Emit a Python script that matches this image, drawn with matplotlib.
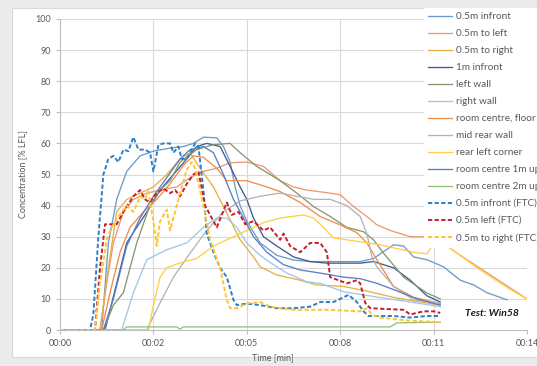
import matplotlib
matplotlib.use("Agg")
import matplotlib.pyplot as plt
from matplotlib.patches import Rectangle

plt.rcParams['font.family'] = ['Lato', 'DejaVu Sans']

# time [min] and concentration [% LFL] per sensor
t_infront = [0, 1.25, 1.45, 1.7, 2.0, 2.4, 2.8, 3.3, 3.7, 4.0, 4.3, 4.7, 4.9, 5.1, 5.25, 5.4, 5.6, 6.0, 6.5, 7.0,
             7.5, 8.0, 8.5, 9.0, 9.4, 10.0, 10.3, 10.6, 11.0, 11.5, 12.0, 12.4, 12.8, 13.4]
c_infront = [0, 0, 28, 42, 51, 56, 57.5, 58.5, 59, 60, 62, 61.8, 59, 54, 46, 40, 35, 28, 24, 22.5,
             22, 22, 22, 22, 23, 27.4, 27, 23.5, 22.6, 20.3, 16, 14.5, 12, 9.7]

t_left = [0, 1.2, 1.4, 1.6, 1.9, 2.2, 2.6, 3.0, 3.5, 3.9, 4.3, 4.7, 5.1, 5.6, 6.1, 6.6, 7.0, 7.4, 8.1, 8.4,
          8.8, 9.2, 9.5, 9.9, 10.5, 11.2, 11.6, 12.0, 12.5, 13.0, 13.5, 14.0]
c_left = [0, 0, 15, 28, 38, 42, 44, 45, 46, 49, 51, 52, 53.8, 54, 52.6, 48, 46, 45, 44, 43.5,
          39.7, 36.5, 33.8, 32, 30, 30, 27, 24, 20.5, 17, 13.5, 10]

t_right = [0, 1.2, 1.45, 1.7, 2.0, 2.4, 2.8, 3.2, 3.6, 3.9, 4.2, 4.6, 5.0, 5.4, 5.8, 6.0, 6.5, 7.2, 7.7, 8.5,
           9.2, 10.0, 10.8, 11.4]
c_right = [0, 0, 20, 38, 42, 44, 46, 50, 55, 57, 52, 46, 37.6, 29, 23.5, 20.3, 17.7, 16, 14.5, 14,
           12.5, 10.5, 9, 8]

t_1m = [0, 1.35, 1.7, 2.0, 2.3, 2.65, 3.0, 3.4, 3.8, 4.1, 4.4, 4.8, 5.1, 5.4, 5.6, 5.8, 6.1, 6.5, 7.0, 7.5,
        8.0, 9.0, 9.4, 10.0, 10.5, 11.0, 11.4]
c_1m = [0, 0, 15, 28, 33, 38.7, 45, 50, 55, 59, 60, 59, 52.6, 46, 42, 36, 30, 27, 23.5, 22,
        21.5, 21.5, 22, 20, 16, 11, 9]

t_lwall = [0, 1.3, 1.6, 1.9, 2.3, 2.65, 3.0, 3.3, 3.6, 4.1, 4.6, 5.1, 5.4, 5.9, 6.3, 6.6, 7.1, 7.6, 8.1, 8.6,
           9.1, 9.4, 9.7, 10.3, 11.0, 11.4]
c_lwall = [0, 0, 8, 12, 28, 38.7, 45, 48, 54, 58, 59.6, 60, 57, 52.6, 50, 48, 44, 39.7, 36.5, 33,
           31.6, 29, 24.7, 17, 11.9, 10]

t_rwall = [0, 1.85, 2.2, 2.6, 3.2, 3.8, 4.3, 4.7, 5.0, 5.3, 5.6, 6.0, 6.4, 6.8, 7.4, 7.8, 8.5, 9.5, 10.5, 11.4]
c_rwall = [0, 0, 12, 22.6, 25.8, 28, 33, 36, 36, 33, 28, 24, 21, 18.3, 15.5, 15, 12.3, 10.6, 9, 7.5]

t_floor = [0, 1.25, 1.5, 1.8, 2.1, 2.5, 2.9, 3.3, 3.7, 4.0, 4.3, 4.7, 5.0, 5.6, 6.2, 6.6, 7.2, 7.8, 8.4, 8.9,
           9.2, 9.5, 10.0, 10.6, 11.4]
c_floor = [0, 0, 12, 25, 33, 38, 42, 47, 53, 56, 55.5, 52, 48, 48, 46, 44.5, 41, 36.5, 33.8, 31.3,
           28, 22.6, 14, 10.5, 8.5]

t_rear = [0, 2.6, 3.0, 3.4, 3.9, 4.4, 4.9, 5.4, 6.0, 6.6, 7.6, 8.1, 8.6, 9.0, 9.2, 9.35, 9.5, 10.0, 10.6, 11.4]
c_rear = [0, 0, 8.7, 17, 24.7, 32, 38, 41.5, 43, 44, 42, 42, 40, 36.5, 31, 23.5, 20.3, 14, 9.7, 8.7]

t_corner = [0, 2.65, 2.8, 3.0, 3.2, 3.6, 4.1, 4.6, 5.1, 5.6, 6.1, 6.6, 7.3, 7.6, 7.9, 8.2, 8.6, 9.6, 10.6, 11.0,
            11.25, 11.6, 12.0, 12.5, 13.0, 13.5, 14.0]
c_corner = [0, 0, 8, 17, 20, 21.6, 23, 27, 29.5, 32, 34.5, 36, 37, 36, 33, 29.6, 29, 27.4, 25, 24.5,
            28.5, 27, 24, 20, 16.5, 13, 10]

t_c1m = [0, 1.3, 1.6, 2.0, 2.4, 2.8, 3.2, 3.6, 3.9, 4.3, 4.6, 4.9, 5.2, 5.5, 5.8, 6.2, 6.7, 7.2, 7.8, 8.5,
         9.0, 9.5, 10.0, 10.7, 11.4]
c_c1m = [0, 0, 10, 27, 36, 43, 49, 55, 58, 59, 57, 50, 42, 36, 30, 25, 21, 19.3, 18.3, 17,
         16.5, 15, 13, 10, 8]

t_c2m = [0, 1.9, 2.0, 3.5, 3.6, 3.7, 9.9, 10.1, 11.4]
c_c2m = [0, 0, 1, 1, 0.3, 1, 1, 2.3, 2.5]

t_ftc_front = [0, 0.9, 1.0, 1.15, 1.3, 1.45, 1.6, 1.75, 1.9, 2.05, 2.2, 2.35, 2.55, 2.7, 2.8, 2.95, 3.1, 3.3,
               3.4, 3.55, 3.65, 3.8, 4.05, 4.15, 4.3, 4.4, 4.6, 4.8, 5.0, 5.2, 5.3, 5.6, 6.0, 6.5, 7.0, 7.5,
               7.8, 8.2, 8.5, 8.65, 8.9, 9.1, 9.25, 10.0, 10.5, 11.0, 11.4]
c_ftc_front = [0, 0, 5, 30, 50, 55, 56, 54, 58, 57.5, 62, 58, 58, 57, 51, 59.5, 60, 60,
               57, 59, 55, 55, 60, 59, 45, 31, 25, 20, 17, 9.7, 8, 8.5, 8, 7, 7, 7.5,
               9, 9, 10.5, 11.3, 9, 6, 4.5, 4.5, 4, 4.5, 4.5]

t_ftc_left = [0, 1.05, 1.2, 1.35, 1.7, 1.9, 2.2, 2.4, 2.55, 2.7, 2.9, 3.1, 3.3, 3.45, 3.6, 3.8, 4.0, 4.15,
              4.35, 4.7, 5.0, 5.15, 5.35, 5.55, 5.8, 6.1, 6.3, 6.6, 6.7, 6.9, 7.2, 7.5, 7.8, 8.0, 8.1,
              8.6, 8.9, 9.0, 9.15, 9.3, 10.3, 10.5, 10.9, 11.2, 11.4]
c_ftc_left = [0, 0, 20, 34, 34, 38, 43, 45, 42, 41, 44, 45.5, 44, 45, 43, 47, 50, 51,
              40, 33, 41, 37, 38, 34, 35, 32, 33, 29, 31, 27, 25, 28, 28, 25, 17,
              15, 16, 15, 8.7, 7, 6.5, 5, 6, 6, 5.5]

t_ftc_right = [0, 1.05, 1.2, 1.4, 1.55, 1.75, 2.0, 2.2, 2.4, 2.55, 2.65, 2.8, 2.9, 3.0, 3.2, 3.3, 3.5, 3.65,
               3.8, 3.95, 4.05, 4.3, 4.5, 4.8, 5.0, 5.1, 5.3, 5.6, 6.0, 6.3, 6.6, 7.0, 8.0, 9.0, 9.2, 9.35,
               9.6, 10.0, 10.5, 11.4]
c_ftc_right = [0, 0, 15, 29, 33, 36.5, 40, 38, 43, 42, 44.5, 35, 27, 35, 38.7, 32, 40, 46,
               51.6, 54, 52, 40, 29, 20, 9.7, 7, 7, 8.5, 9, 7.5, 7, 6.5, 6.5, 6, 7, 5,
               4, 3.5, 3, 2.5]

labels = ['0.5m infront', '0.5m to left', '0.5m to right', '1m infront', 'left wall', 'right wall',
          'room centre, floor', 'mid rear wall', 'rear left corner', 'room centre 1m up',
          'room centre 2m up', '0.5m infront (FTC)', '0.5m left (FTC)', '0.5m to right (FTC)']
times = [t_infront, t_left, t_right, t_1m, t_lwall, t_rwall, t_floor, t_rear, t_corner, t_c1m, t_c2m,
         t_ftc_front, t_ftc_left, t_ftc_right]
values = [c_infront, c_left, c_right, c_1m, c_lwall, c_rwall, c_floor, c_rear, c_corner, c_c1m, c_c2m,
          c_ftc_front, c_ftc_left, c_ftc_right]
colors = ['#6E9ACB', '#EC9A72', '#E6B045', '#3E5C92', '#8A9672', '#A3C6E6', '#F08C50', '#B4B4B4',
          '#FFCF45', '#5A7FC4', '#92C276', '#2E7FC4', '#C81E2A', '#FFC52E']

xtick_pos = [0, 2.8, 5.6, 8.4, 11.2, 14.0]
xtick_labels = ['00:00', '00:02', '00:05', '00:08', '00:11', '00:14']

fig = plt.figure(figsize=(5.37, 3.66), dpi=100)
fig.patch.set_facecolor('#ebebeb')
fig.patches.append(Rectangle((12 / 537, 9 / 366), 1, 1 - 17 / 366, transform=fig.transFigure,
                             facecolor='white', edgecolor='#d9d9d9', lw=0.8, zorder=-10))
ax = fig.add_axes([60 / 537, 36 / 366, 467 / 537, 311 / 366])
ax.set_facecolor('none')

for i, (t, c, lab, col) in enumerate(zip(times, values, labels, colors)):
    if '(FTC)' in lab:
        ax.plot(t, c, color=col, lw=1.4, ls=(0, (2.2, 1.2)), label=lab)
    else:
        ax.plot(t, c, color=col, lw=0.95, label=lab)

ax.set_xlim(0, 14)
ax.set_ylim(0, 100)
ax.set_yticks(range(0, 101, 10))
ax.set_xticks(xtick_pos)
ax.set_xticklabels(xtick_labels)
ax.grid(True, color='#d9d9d9', lw=0.8)
ax.set_axisbelow(True)
for s in ['top', 'right']:
    ax.spines[s].set_visible(False)
for s in ['left', 'bottom']:
    ax.spines[s].set_color('#bfbfbf')
    ax.spines[s].set_linewidth(0.8)
ax.tick_params(colors='#bfbfbf', labelcolor='#595959', labelsize=6.5, length=3, width=0.8)

ax.set_xlabel('Time [min]', fontsize=6.5, color='#595959', labelpad=1)
ax.xaxis.set_label_coords(0.455, -0.075)
ax.set_ylabel('Concentration [% LFL]', fontsize=6.5, color='#595959', labelpad=6)

fig.text(465 / 537, 1 - 313 / 366, 'Test: Win58', fontsize=7.5, fontweight='bold', fontstyle='italic',
         color='#1a1a1a', va='center', ha='left')

leg = fig.legend(loc='upper left', bbox_to_anchor=(419 / 537, 1 - 3 / 366), fontsize=7.2,
                 frameon=True, framealpha=1, edgecolor='white', fancybox=False,
                 handlelength=2.4, handletextpad=0.4, labelspacing=0.8, borderpad=0.4)
for txt in leg.get_texts():
    txt.set_color('#595959')

fig.savefig('out.png', dpi=100)
